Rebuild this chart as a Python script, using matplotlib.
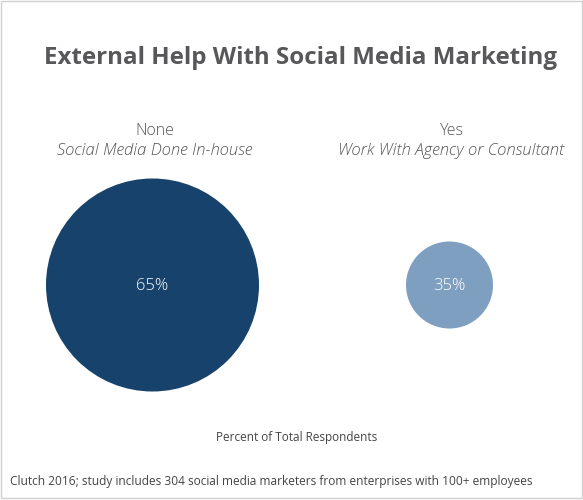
import matplotlib.pyplot as plt
from matplotlib.patches import Circle, Rectangle
import numpy as np

# chart data
categories = ['None', 'Yes']
subtitles = ['Social Media Done In-house', 'Work With Agency or Consultant']
values = [65, 35]
value_labels = ['65%', '35%']
colors = ['#17426b', '#7f9fc0']

title = 'External Help With Social Media Marketing'
axis_note = 'Percent of Total Respondents'
source = 'Clutch 2016; study includes 304 social media marketers from enterprises with 100+ employees'

W, H = 583, 500
plt.rcParams['font.family'] = ['Open Sans', 'DejaVu Sans']

fig = plt.figure(figsize=(W / 100, H / 100), dpi=100)
ax = fig.add_axes([0, 0, 1, 1])
ax.set_xlim(0, W)
ax.set_ylim(H, 0)
ax.axis('off')

# bubble positions / size scale
x_pos = 152.5 + 297 * np.arange(len(categories))
cy = 285
radius = np.interp(values, [min(values), max(values)], [43.5, 106.5])

for x, r, c, lab, cat, sub in zip(x_pos, radius, colors, value_labels, categories, subtitles):
    ax.add_patch(Circle((x, cy), r, color=c, lw=0))
    ax.text(x, cy + 1, lab, ha='center', va='center', color='white', fontsize=12,
            fontweight='light')
    ax.text(x + 2, 131, cat, ha='center', va='center', color='#555555', fontsize=11.5,
            fontweight='light')
    ax.text(x + 2, 151, sub, ha='center', va='center', color='#555555', fontsize=12,
            style='italic', fontweight='light')

ax.text(300, 58, title, ha='center', va='center', color='#58585a',
        fontsize=17.4, fontweight='bold')
ax.text(297, 437, axis_note, ha='center', va='center', color='#444444', fontsize=8.5)
ax.text(10, 482, source, ha='left', va='center', color='#444444', fontsize=8.6)

# thin frame around the image
ax.add_patch(Rectangle((0.5, 0.5), W - 2, H - 2.5, fill=False, ec='#d0d0d0', lw=1))

fig.savefig('out.png', dpi=100, facecolor='white')
